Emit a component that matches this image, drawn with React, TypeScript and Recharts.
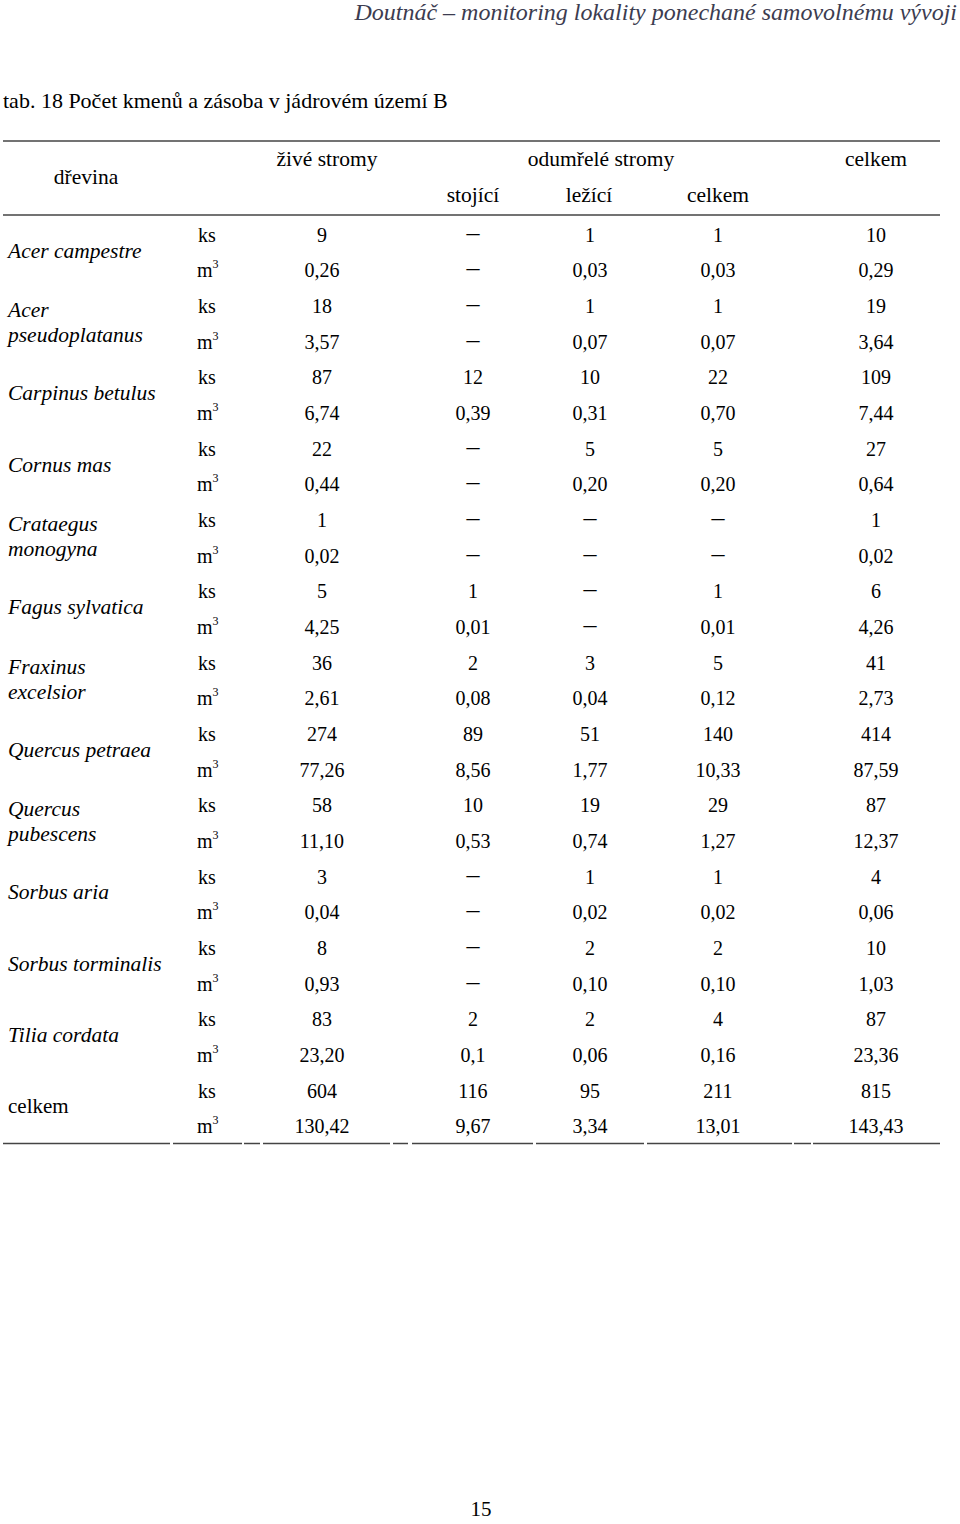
import { ScatterChart, Scatter, XAxis, YAxis } from 'recharts';

const species = [
  'Acer campestre',
  'Acer|pseudoplatanus',
  'Carpinus betulus',
  'Cornus mas',
  'Crataegus|monogyna',
  'Fagus sylvatica',
  'Fraxinus|excelsior',
  'Quercus petraea',
  'Quercus|pubescens',
  'Sorbus aria',
  'Sorbus torminalis',
  'Tilia cordata',
  'celkem',
];

type Cell = number | string | null;

const ziveKs: Cell[] = [9, 18, 87, 22, 1, 5, 36, 274, 58, 3, 8, 83, 604];
const ziveM3: Cell[] = ['0,26', '3,57', '6,74', '0,44', '0,02', '4,25', '2,61', '77,26', '11,10', '0,04', '0,93', '23,20', '130,42'];
const stojiciKs: Cell[] = [null, null, 12, null, null, 1, 2, 89, 10, null, null, 2, 116];
const stojiciM3: Cell[] = [null, null, '0,39', null, null, '0,01', '0,08', '8,56', '0,53', null, null, '0,1', '9,67'];
const leziciKs: Cell[] = [1, 1, 10, 5, null, null, 3, 51, 19, 1, 2, 2, 95];
const leziciM3: Cell[] = ['0,03', '0,07', '0,31', '0,20', null, null, '0,04', '1,77', '0,74', '0,02', '0,10', '0,06', '3,34'];
const odumKs: Cell[] = [1, 1, 22, 5, null, 1, 5, 140, 29, 1, 2, 4, 211];
const odumM3: Cell[] = ['0,03', '0,07', '0,70', '0,20', null, '0,01', '0,12', '10,33', '1,27', '0,02', '0,10', '0,16', '13,01'];
const celkemKs: Cell[] = [10, 19, 109, 27, 1, 6, 41, 414, 87, 4, 10, 87, 815];
const celkemM3: Cell[] = ['0,29', '3,64', '7,44', '0,64', '0,02', '4,26', '2,73', '87,59', '12,37', '0,06', '1,03', '23,36', '143,43'];

// column centres on the page (layout only)
const COL_X = { label: 8, unit: 197, zive: 322, stojici: 473, lezici: 590, odum: 718, celkem: 876 };

const FONT = '"Liberation Serif", "Times New Roman", serif';

const columnData = (x: number, ks: Cell[], m3: Cell[]) =>
  species.flatMap((_, i) => [
    { x, y: i * 2, label: ks[i] == null ? null : String(ks[i]) },
    { x, y: i * 2 + 1, label: m3[i] == null ? null : String(m3[i]) },
  ]);

const unitData = species.flatMap((_, i) => [
  { x: COL_X.unit, y: i * 2, label: 'ks' },
  { x: COL_X.unit, y: i * 2 + 1, label: 'm3' },
]);

const labelData = species.map((s, i) => ({ x: COL_X.label, y: i * 2 + 0.5, label: s }));

const ValueCell = (props: any) =>
  props.payload.label == null ? (
    <text x={props.cx} y={props.cy + 6} textAnchor="middle" fontFamily={FONT} fontSize={26} fill="#000">
      –
    </text>
  ) : (
    <text x={props.cx} y={props.cy + 7} textAnchor="middle" fontFamily={FONT} fontSize={20} fill="#000">
      {props.payload.label}
    </text>
  );

const UnitCell = (props: any) =>
  props.payload.label === 'm3' ? (
    <text x={props.cx} y={props.cy + 7} fontFamily={FONT} fontSize={20} fill="#000">
      m<tspan fontSize={12} dy={-9}>3</tspan>
    </text>
  ) : (
    <text x={props.cx + 1} y={props.cy + 7} fontFamily={FONT} fontSize={20} fill="#000">
      ks
    </text>
  );

const SpeciesCell = (props: any) => {
  const parts: string[] = props.payload.label.split('|');
  const italic = props.payload.label !== 'celkem';
  if (parts.length === 1) {
    return (
      <text x={props.cx} y={props.cy + 5} fontFamily={FONT} fontSize={italic ? 21.5 : 21} fontStyle={italic ? 'italic' : 'normal'} fill="#000">
        {parts[0]}
      </text>
    );
  }
  return (
    <text x={props.cx} y={props.cy - 7} fontFamily={FONT} fontSize={21.5} fontStyle="italic" fill="#000">
      <tspan x={props.cx}>{parts[0]}</tspan>
      <tspan x={props.cx} dy={25}>{parts[1]}</tspan>
    </text>
  );
};

const bottomSegments = [
  [3, 170], [173, 242], [244, 260], [263, 390], [393, 408],
  [412, 533], [536, 644], [647, 792], [794, 811], [813, 940],
];

const App = () => {
  return (
    <div style={{ position: 'absolute', left: 0, top: 0, width: 960, height: 1524, background: '#fff' }}>
      <svg width={960} height={1524} style={{ position: 'absolute', left: 0, top: 0 }}>
        <text x={957} y={20} textAnchor="end" fontFamily={FONT} fontStyle="italic" fontSize={24} fill="#3c3c50">
          Doutnáč – monitoring lokality ponechané samovolnému vývoji
        </text>
        <text x={3} y={108} fontFamily={FONT} fontSize={22} fill="#000">
          tab. 18 Počet kmenů a zásoba v jádrovém území B
        </text>
        <line x1={3} x2={940} y1={141} y2={141} stroke="#444" strokeWidth={1.5} />
        <line x1={3} x2={940} y1={215} y2={215} stroke="#444" strokeWidth={1.5} />
        {bottomSegments.map(([a, b]) => (
          <line key={a} x1={a} x2={b} y1={1143.5} y2={1143.5} stroke="#444" strokeWidth={1.5} />
        ))}
        <g fontFamily={FONT} fontSize={21.5} fill="#000" textAnchor="middle">
          <text x={86} y={184}>dřevina</text>
          <text x={327} y={166}>živé stromy</text>
          <text x={601} y={166}>odumřelé stromy</text>
          <text x={876} y={166}>celkem</text>
          <text x={473} y={202}>stojící</text>
          <text x={589} y={202}>ležící</text>
          <text x={718} y={202}>celkem</text>
          <text x={481} y={1516} fontSize={21}>15</text>
        </g>
      </svg>
      <div style={{ position: 'absolute', left: 0, top: 0 }}>
        <ScatterChart width={960} height={1524} margin={{ top: 217, right: 0, bottom: 380, left: 0 }}>
          <XAxis type="number" dataKey="x" domain={[0, 960]} allowDataOverflow hide />
          <YAxis type="number" dataKey="y" domain={[-0.5, 25.5]} reversed allowDataOverflow hide />
          <Scatter data={labelData} shape={SpeciesCell} isAnimationActive={false} />
          <Scatter data={unitData} shape={UnitCell} isAnimationActive={false} />
          <Scatter data={columnData(COL_X.zive, ziveKs, ziveM3)} shape={ValueCell} isAnimationActive={false} />
          <Scatter data={columnData(COL_X.stojici, stojiciKs, stojiciM3)} shape={ValueCell} isAnimationActive={false} />
          <Scatter data={columnData(COL_X.lezici, leziciKs, leziciM3)} shape={ValueCell} isAnimationActive={false} />
          <Scatter data={columnData(COL_X.odum, odumKs, odumM3)} shape={ValueCell} isAnimationActive={false} />
          <Scatter data={columnData(COL_X.celkem, celkemKs, celkemM3)} shape={ValueCell} isAnimationActive={false} />
        </ScatterChart>
      </div>
    </div>
  );
};

export default App;
